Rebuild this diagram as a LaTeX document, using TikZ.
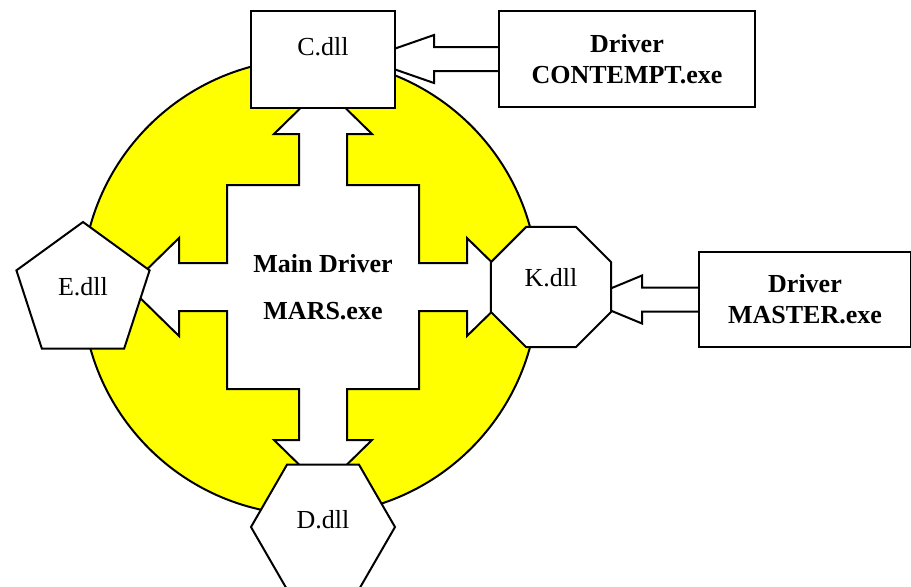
\documentclass[tikz,border=0pt]{standalone}
\usepackage{fontspec}
\setmainfont{Liberation Serif}
\usetikzlibrary{shapes.geometric, backgrounds, calc}
\definecolor{discyellow}{RGB}{255,255,0}
\tikzset{
    dll/.style={draw=black, fill=white, line width=1pt, inner sep=0pt, font=\fontsize{13}{15.5}\selectfont},
    driver/.style={rectangle, draw=black, fill=white, line width=1pt, align=center, font=\fontsize{13}{15.5}\selectfont\bfseries},
    blockarrow/.style={draw=black, fill=white, line width=1pt, line join=miter}
}

\begin{document}
\begin{tikzpicture}[
    x=0.5pt, y=-0.5pt,
    crossarm/.style={draw=black, fill=white, line width=1pt, line join=miter}
]
\useasboundingbox (0,0) rectangle (911,586);

% --- Main driver in the middle ---
\node[align=center, font=\fontsize{13}{23.5}\selectfont\bfseries] (main) at (323,287) {Main Driver\\MARS.exe};

% --- DLLs round the main driver ---
\node[dll, rectangle, minimum width=72pt, minimum height=48.5pt, text depth=13.5pt] (C) at (323,59.5) {C.dll};
\node[dll, regular polygon, regular polygon sides=8, minimum size=65pt, text depth=10pt] (K) at (551,287) {K.dll};
\node[dll, regular polygon, regular polygon sides=5, minimum size=70pt, text depth=6pt] (E) at (83,292) {E.dll};
\node[dll, regular polygon, regular polygon sides=6, minimum size=72pt, text depth=8pt] (D) at (323,527) {D.dll};

% --- Outside drivers ---
\node[driver, minimum width=128pt, minimum height=48pt] (contempt) at (627,59) {Driver\\CONTEMPT.exe};
\node[driver, minimum width=106pt, minimum height=47.5pt] (master) at (805,299.5) {Driver\\MASTER.exe};

\begin{scope}[on background layer]
% yellow disc behind everything
\draw[line width=1pt, fill=discyellow] (310,287) circle[radius=228];

% four-way arrow out of the main driver
\begin{scope}[shift={(main.center)}]
\draw[crossarm] (0,-201) -- (49,-153) -- (24,-153) -- (24,-102) -- (96,-102)
    -- (96,-24) -- (144,-24) -- (144,-49) -- (194,0) -- (144,49) -- (144,24)
    -- (96,24) -- (96,102) -- (24,102) -- (24,153) -- (49,153) -- (0,201)
    -- (-49,153) -- (-24,153) -- (-24,102) -- (-96,102) -- (-96,24)
    -- (-144,24) -- (-144,49) -- (-194,0) -- (-144,-49) -- (-144,-24)
    -- (-96,-24) -- (-96,-102) -- (-24,-102) -- (-24,-153) -- (-49,-153) -- cycle;
\end{scope}

% block arrows from the outside drivers (tips run under the dll shapes)
\draw[blockarrow] ($(contempt.west)+(0,-12)$) -- ++(-64,0) -- ++(0,-12)
    -- ($(contempt.west)+(-133,0)$) -- ($(contempt.west)+(-64,24)$) -- ++(0,-12)
    -- ($(contempt.west)+(0,12)$);
\draw[blockarrow] ($(master.west)+(0,-12)$) -- ++(-56,0) -- ++(0,-12)
    -- ($(master.west)+(-114,0)$) -- ($(master.west)+(-56,24)$) -- ++(0,-12)
    -- ($(master.west)+(0,12)$);
\end{scope}

\end{tikzpicture}
\end{document}
